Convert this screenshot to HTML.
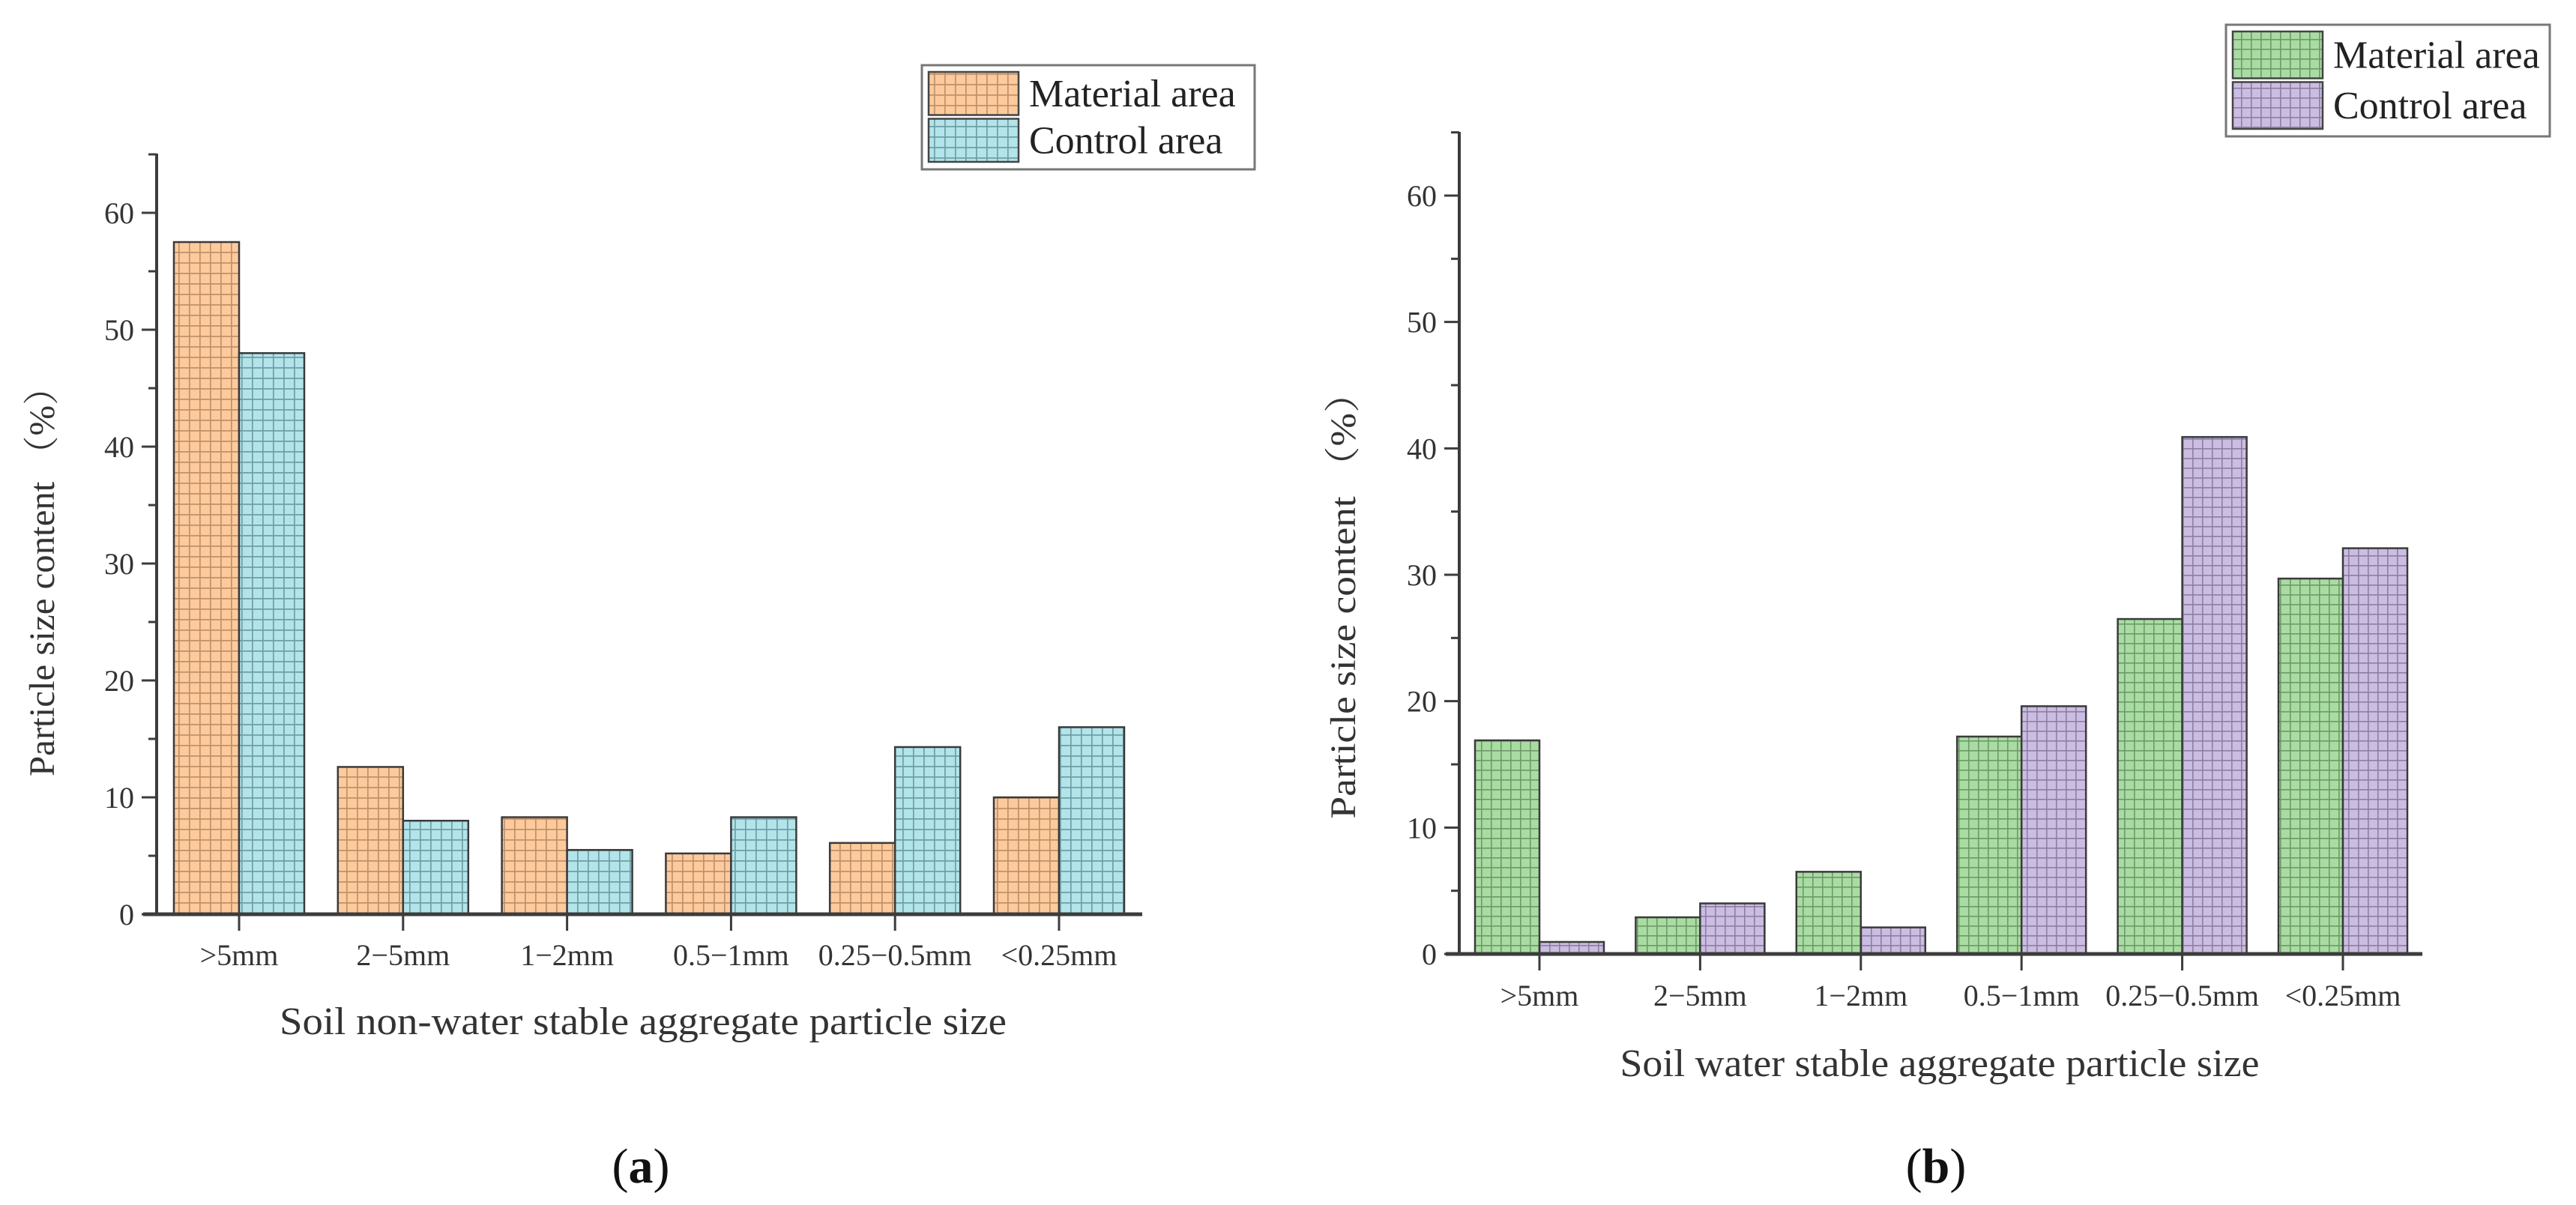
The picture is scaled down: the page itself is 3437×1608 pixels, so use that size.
<!DOCTYPE html>
<html><head><meta charset="utf-8">
<style>
html,body{margin:0;padding:0;background:#fff;}
svg{display:block;font-family:"Liberation Serif","Noto Serif CJK SC",serif;}
</style></head>
<body>
<svg id="fig" width="3437" height="1608" viewBox="0 0 3437 1608" xmlns="http://www.w3.org/2000/svg">
<defs>
<pattern id="pOrange" width="14" height="14" patternUnits="userSpaceOnUse"><rect width="14" height="14" fill="#fcca9c"/><path d="M0 0.5H14M0.5 0V14" stroke="#c0916a" stroke-width="2.4"/></pattern>
<pattern id="pCyan" width="14" height="14" patternUnits="userSpaceOnUse"><rect width="14" height="14" fill="#b3e4ea"/><path d="M0 0.5H14M0.5 0V14" stroke="#6f9fa6" stroke-width="2.4"/></pattern>
<pattern id="pGreen" width="13" height="13" patternUnits="userSpaceOnUse"><rect width="13" height="13" fill="#a9dca2"/><path d="M0 0.5H13M0.5 0V13" stroke="#6e9a69" stroke-width="2.2"/></pattern>
<pattern id="pPurple" width="13" height="13" patternUnits="userSpaceOnUse"><rect width="13" height="13" fill="#cbbde2"/><path d="M0 0.5H13M0.5 0V13" stroke="#8d7fa2" stroke-width="2.2"/></pattern>
</defs>
<g id="chartA"></g>
<g id="chartB"></g>
</svg>
<script>
const categories = [">5mm","2\u22125mm","1\u22122mm","0.5\u22121mm","0.25\u22120.5mm","<0.25mm"];
const aMaterial = [57.5, 12.6, 8.3, 5.2, 6.1, 10.0];
const aControl  = [48.0, 8.0, 5.5, 8.3, 14.3, 16.0];
const bMaterial = [16.9, 2.9, 6.5, 17.2, 26.5, 29.7];
const bControl  = [0.95, 4.0, 2.1, 19.6, 40.9, 32.1];
const yTicks = [0,10,20,30,40,50,60];
const seriesNames = ["Material area","Control area"];

const NS="http://www.w3.org/2000/svg";
function mk(parent,tag,attrs,text){
  const e=document.createElementNS(NS,tag);
  for(const k in attrs) e.setAttribute(k,attrs[k]);
  if(text!==undefined) e.textContent=text;
  parent.appendChild(e); return e;
}

function drawChart(g, cfg){
  const y = v => cfg.y0 - (v - 0) * (cfg.y0 - cfg.y60) / 60;
  const x = i => cfg.c0 + i * cfg.step;
  // bars
  const series=[cfg.m,cfg.c];
  series.forEach((vals,si)=>{
    vals.forEach((v,i)=>{
      const bx = si===0 ? x(i)-cfg.bw : x(i);
      const r=mk(g,'rect',{x:bx,y:y(v),width:cfg.bw,height:cfg.y0-y(v),fill:`url(#${cfg.pats[si]})`,stroke:'#3a3a3a','stroke-width':2.5});
      
      
    });
  });
  // axes
  const ya=mk(g,'line',{x1:cfg.ax,y1:cfg.top,x2:cfg.ax,y2:cfg.y0+2,stroke:'#3c3c3c','stroke-width':4});
  
  
  const xa=mk(g,'line',{x1:cfg.ax-18,y1:cfg.y0,x2:cfg.xend,y2:cfg.y0,stroke:'#3c3c3c','stroke-width':5});
  
  
  // y ticks
  for(let v=0; v<=65; v+=5){
    const major = v%10===0;
    mk(g,'line',{x1:cfg.ax-(major?20:11),y1:y(v),x2:cfg.ax,y2:y(v),stroke:'#3c3c3c','stroke-width':3});
  }
  yTicks.forEach(v=>{
    const t=mk(g,'text',{x:cfg.ax-30,y:y(v)+14,'text-anchor':'end','font-size':40,fill:'#333'},String(v));
    
    
  });
  // x ticks
  categories.forEach((c,i)=>{
    mk(g,'line',{x1:x(i),y1:cfg.y0,x2:x(i),y2:cfg.y0+22,stroke:'#3c3c3c','stroke-width':3});
    const t=mk(g,'text',{x:x(i),y:cfg.tickY,'text-anchor':'middle','font-size':40,fill:'#333'},c);
    
    
  });
  // titles
  const xt=mk(g,'text',{x:cfg.xtX,y:cfg.xtY,'text-anchor':'middle','font-size':52,fill:'#333',textLength:cfg.xtW,lengthAdjust:'spacingAndGlyphs'},cfg.xTitle);
  
  
  const yt=mk(g,'text',{x:0,y:0,'text-anchor':'middle','font-size':48,fill:'#333',transform:`translate(${cfg.ytX},${cfg.ytY}) rotate(-90)`,textLength:cfg.ytW,lengthAdjust:'spacingAndGlyphs'},'Particle size content （%）');
  
  
  const cap=mk(g,'text',{x:cfg.capX,y:1578,'text-anchor':'middle','font-size':66,fill:'#111'});
  
  
  mk(cap,'tspan',{},'(');
  mk(cap,'tspan',{'font-weight':'bold'},cfg.letter);
  mk(cap,'tspan',{},')');
  // legend
  const lg=mk(g,'g',{});
  
  
  mk(lg,'rect',{x:cfg.lg.x,y:cfg.lg.y,width:cfg.lg.w,height:cfg.lg.h,fill:'#fff',stroke:'#777','stroke-width':3});
  seriesNames.forEach((n,i)=>{
    const ry=cfg.lg.y+9+i*(cfg.lg.h-14)/2;
    const rh=(cfg.lg.h-14)/2-5;
    const sw=mk(lg,'rect',{x:cfg.lg.x+9,y:ry,width:120,height:rh,fill:`url(#${cfg.pats[i]})`,stroke:'#444','stroke-width':2.5});
    
    
    const t=mk(lg,'text',{x:cfg.lg.x+143,y:ry+rh/2+17,'font-size':52,fill:'#222'},n);
    
    
  });
}

drawChart(document.getElementById('chartA'),{
  m:aMaterial,c:aControl,pats:['pOrange','pCyan'],
  ax:209,top:205,y0:1220,y60:284,xend:1524,c0:319,step:218.8,bw:87,
  tickY:1288,xTitle:'Soil non-water stable aggregate particle size',xtX:858,xtY:1380,xtW:970,
  ytX:72,ytY:764,ytW:544,capX:855,letter:'a',
  lg:{x:1230,y:87,w:444,h:139}
});
drawChart(document.getElementById('chartB'),{
  m:bMaterial,c:bControl,pats:['pGreen','pPurple'],
  ax:1947,top:176,y0:1273,y60:261,xend:3232,c0:2054,step:214.4,bw:86,
  tickY:1342,xTitle:'Soil water stable aggregate particle size',xtX:2588,xtY:1436,xtW:853,
  ytX:1808,ytY:795,ytW:595,capX:2583,letter:'b',
  lg:{x:2970,y:33,w:432,h:149}
});
</script>
</body></html>
